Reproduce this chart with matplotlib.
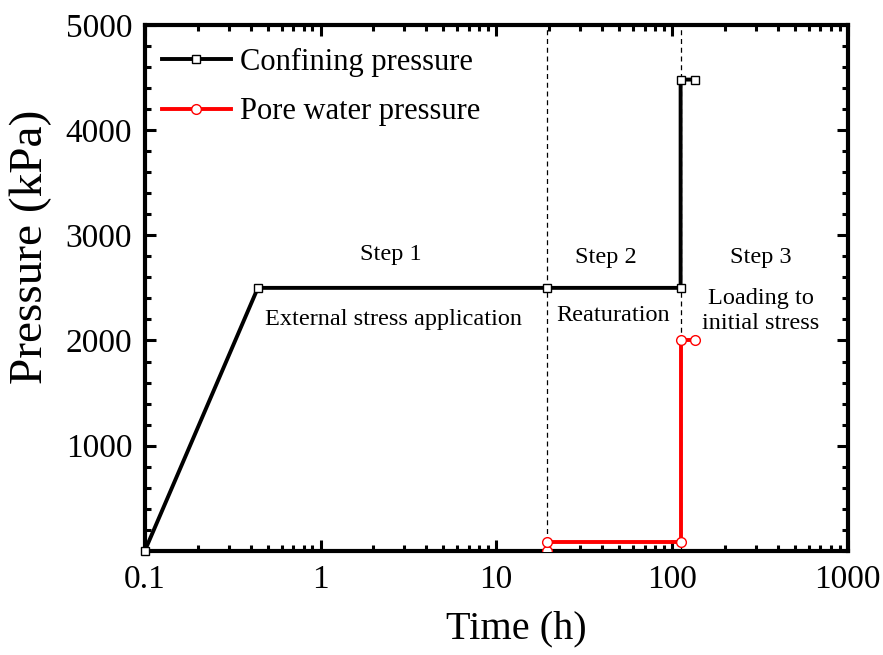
import numpy as np
import matplotlib.pyplot as plt
from matplotlib.ticker import MultipleLocator, LogLocator, NullFormatter, FixedLocator

plt.rcParams['font.family'] = ['Liberation Serif', 'DejaVu Serif']

# Data
conf_time = [0.1, 0.44, 19.5, 112, 112, 135]
conf_press = [0, 2500, 2500, 2500, 4480, 4480]

pore_time = [19.5, 19.5, 112, 112, 135]
pore_press = [0, 85, 85, 2000, 2000]

step_lines = [19.5, 112]

fig = plt.figure(figsize=(8.83, 6.55), dpi=100)
ax = fig.add_axes([0.164, 0.159, 0.796, 0.803])

ax.plot(conf_time, conf_press, color='black', lw=2.8, marker='s', ms=6,
        mfc='white', mec='black', mew=1, label='Confining pressure', zorder=3, clip_on=False)
ax.plot(pore_time, pore_press, color='red', lw=2.8, marker='o', ms=7,
        mfc='white', mec='red', mew=1, label='Pore water pressure', zorder=3)

for xv in step_lines:
    ax.axvline(xv, color='black', ls=(0, (4, 3)), lw=0.9, zorder=2)

ax.set_xscale('log')
ax.set_xlim(0.1, 1000)
ax.set_ylim(0, 5000)
ax.xaxis.set_minor_locator(LogLocator(base=10, subs=np.arange(2, 10), numticks=20))
ax.xaxis.set_minor_formatter(NullFormatter())
ax.set_xticks([0.1, 1, 10, 100, 1000])
ax.set_xticklabels(['0.1', '1', '10', '100', '1000'])
ax.yaxis.set_major_locator(FixedLocator([1000, 2000, 3000, 4000, 5000]))
ax.yaxis.set_minor_locator(MultipleLocator(200))

ax.tick_params(which='both', direction='in', top=True, right=True, width=2.2)
ax.tick_params(which='major', length=8, labelsize=24, pad=9)
ax.tick_params(axis='x', which='major', pad=10)
ax.tick_params(which='minor', length=4.5)
for sp in ax.spines.values():
    sp.set_linewidth(3)

ax.set_xlabel('Time (h)', fontsize=29)
ax.set_ylabel('Pressure (kPa)', fontsize=34)
ax.xaxis.set_label_coords(0.528, -0.113)
ax.yaxis.set_label_coords(-0.132, 0.578)

fs = 17.5
ax.text(2.5, 2820, 'Step 1', ha='center', va='center', fontsize=fs)
ax.text(2.6, 2200, 'External stress application', ha='center', va='center', fontsize=fs)
ax.text(42, 2790, 'Step 2', ha='center', va='center', fontsize=fs)
ax.text(46, 2240, 'Reaturation', ha='center', va='center', fontsize=fs)
ax.text(320, 2790, 'Step 3', ha='center', va='center', fontsize=fs)
ax.text(320, 2400, 'Loading to', ha='center', va='center', fontsize=fs)
ax.text(320, 2160, 'initial stress', ha='center', va='center', fontsize=fs)

ax.legend(loc='upper left', bbox_to_anchor=(-0.004, 0.994), frameon=False, fontsize=22,
          handlelength=2.25, handletextpad=0.3, borderaxespad=0.25, labelspacing=0.67)

fig.savefig('out.png', dpi=100)
